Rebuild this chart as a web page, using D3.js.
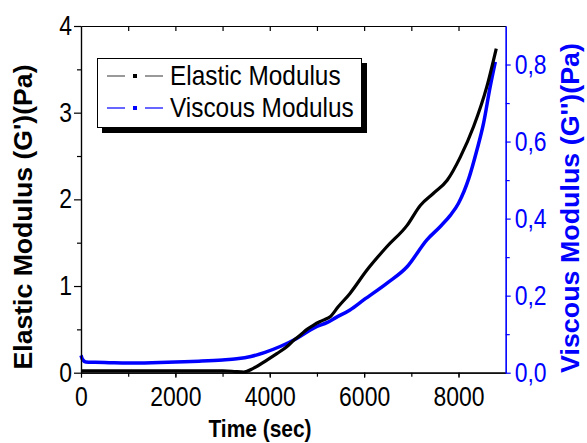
<!DOCTYPE html>
<html>
<head>
<meta charset="utf-8">
<script src="https://cdn.jsdelivr.net/npm/d3@7"></script>
<style>
  body { margin: 0; background: #fff; }
  svg { font-family: "Liberation Sans", Arial, sans-serif; }
</style>
</head>
<body>
<svg id="chart" width="587" height="443"></svg>
<script>
// data
const elasticTime = [0, 500, 1000, 1500, 2000, 2500, 3000, 3200, 3450, 3650, 3940, 4150, 4360, 4500, 4650, 4790, 4930, 5070, 5150, 5280, 5450, 5700, 6060, 6480, 6910, 7190, 7470, 7760, 8040, 8320, 8600, 8800];
const elastic = [0.02, 0.02, 0.021, 0.02, 0.02, 0.021, 0.02, 0.017, 0.008, 0.05, 0.146, 0.22, 0.30, 0.37, 0.435, 0.50, 0.55, 0.59, 0.61, 0.646, 0.76, 0.915, 1.185, 1.453, 1.70, 1.93, 2.07, 2.22, 2.49, 2.84, 3.30, 3.74];

const viscousTime = [0, 30, 100, 300, 600, 1000, 1500, 2000, 2500, 3000, 3300, 3600, 3900, 4220, 4570, 4860, 5000, 5210, 5400, 5700, 5990, 6480, 6910, 7330, 7610, 7830, 8000, 8220, 8390, 8530, 8670, 8780];
const viscous = [0.045, 0.035, 0.028, 0.027, 0.026, 0.025, 0.026, 0.028, 0.030, 0.033, 0.036, 0.042, 0.053, 0.068, 0.089, 0.111, 0.120, 0.130, 0.143, 0.163, 0.189, 0.232, 0.275, 0.345, 0.379, 0.409, 0.44, 0.505, 0.578, 0.647, 0.742, 0.807];

const xTicks = [0, 2000, 4000, 6000, 8000];
const xMinor = [1000, 2000, 3000, 4000, 5000, 6000, 7000, 8000];
const leftTicks = [0, 1, 2, 3, 4];
const leftMinor = [0.5, 1.5, 2.5, 3.5];
const rightTicks = [0, 0.2, 0.4, 0.6, 0.8];
const rightMinor = [0.1, 0.3, 0.5, 0.7];
const seriesNames = ["Elastic Modulus", "Viscous Modulus"];

const blue = "#0000ff";
const plotLeft = 81, plotRight = 505.7, plotTop = 26, plotBottom = 372.7;

const svg = d3.select("#chart");

const x = d3.scaleLinear().domain([0, 9000]).range([plotLeft, plotRight]);
const yL = d3.scaleLinear().domain([0, 4]).range([plotBottom, plotTop]);
const yR = d3.scaleLinear().domain([0, 0.9]).range([plotBottom, plotTop]);

// squeeze text horizontally, the original type is narrow
function condense(sel, k) {
  sel.each(function () {
    const w = this.getComputedTextLength();
    d3.select(this).attr("textLength", w * k).attr("lengthAdjust", "spacingAndGlyphs");
  });
}

function styleAxis(g, color) {
  g.attr("font-size", 27).attr("font-family", null);
  g.selectAll("path, line").attr("stroke", color).attr("stroke-width", 1.2);
  g.selectAll("text").attr("fill", color);
}

// curves
const elasticLine = d3.line()
  .x((d, i) => x(elasticTime[i]))
  .y(d => yL(d))
  .curve(d3.curveMonotoneX);

const viscousLine = d3.line()
  .x((d, i) => x(viscousTime[i]))
  .y(d => yR(d))
  .curve(d3.curveMonotoneX);

svg.append("path")
  .attr("d", viscousLine(viscous))
  .attr("fill", "none")
  .attr("stroke", blue)
  .attr("stroke-width", 3.5);

svg.append("path")
  .attr("d", elasticLine(elastic))
  .attr("fill", "none")
  .attr("stroke", "#000")
  .attr("stroke-width", 3.2);

// bottom axis
svg.append("g")
  .attr("transform", "translate(0," + plotBottom + ")")
  .call(d3.axisBottom(x).tickValues(xMinor).tickSize(4).tickSizeOuter(0).tickFormat(""))
  .call(g => styleAxis(g, "#000"));

const xg = svg.append("g")
  .attr("transform", "translate(0," + plotBottom + ")")
  .call(d3.axisBottom(x).tickValues(xTicks).tickSize(5).tickSizeOuter(0).tickPadding(9).tickFormat(d3.format("d")))
  .call(g => styleAxis(g, "#000"));
condense(xg.selectAll("text"), 0.85);

// top axis, ticks pointing in
svg.append("g")
  .attr("transform", "translate(0," + plotTop + ")")
  .call(d3.axisTop(x).tickValues(xMinor).tickSize(-5).tickSizeOuter(0).tickFormat(""))
  .call(g => styleAxis(g, "#000"));

// left axis
svg.append("g")
  .attr("transform", "translate(" + plotLeft + ",0)")
  .call(d3.axisLeft(yL).tickValues(leftMinor).tickSize(4).tickSizeOuter(0).tickFormat(""))
  .call(g => styleAxis(g, "#000"));

const lg = svg.append("g")
  .attr("transform", "translate(" + plotLeft + ",0)")
  .call(d3.axisLeft(yL).tickValues(leftTicks).tickSize(7).tickSizeOuter(0).tickPadding(2).tickFormat(d3.format("d")))
  .call(g => styleAxis(g, "#000"));
condense(lg.selectAll("text"), 0.85);

// right axis
svg.append("g")
  .attr("transform", "translate(" + plotRight + ",0)")
  .call(d3.axisRight(yR).tickValues(rightMinor).tickSize(4).tickSizeOuter(0).tickFormat(""))
  .call(g => styleAxis(g, blue));

const rg = svg.append("g")
  .attr("transform", "translate(" + plotRight + ",0)")
  .call(d3.axisRight(yR).tickValues(rightTicks).tickSize(5).tickSizeOuter(0).tickPadding(4)
    .tickFormat(d => d3.format(".1f")(d).replace(".", ",")))
  .call(g => styleAxis(g, blue));
condense(rg.selectAll("text"), 0.85);

// axis titles
const tx = svg.append("text")
  .attr("x", 260).attr("y", 436.5)
  .attr("text-anchor", "middle")
  .attr("font-weight", "bold").attr("font-size", 23)
  .text("Time (sec)");
condense(tx, 0.91);

svg.append("text")
  .attr("transform", "translate(32,217) rotate(-90)")
  .attr("text-anchor", "middle")
  .attr("font-weight", "bold").attr("font-size", 26)
  .attr("textLength", 305).attr("lengthAdjust", "spacingAndGlyphs")
  .text("Elastic Modulus (G')(Pa)");

svg.append("text")
  .attr("transform", "translate(579,208) rotate(-90)")
  .attr("text-anchor", "middle")
  .attr("font-weight", "bold").attr("font-size", 26)
  .attr("fill", blue)
  .attr("textLength", 330).attr("lengthAdjust", "spacingAndGlyphs")
  .text("Viscous Modulus (G'')(Pa)");

// legend
const legend = svg.append("g");
legend.append("rect")
  .attr("x", 102).attr("y", 63).attr("width", 265).attr("height", 70)
  .attr("fill", "#000");
legend.append("rect")
  .attr("x", 97.5).attr("y", 58.5).attr("width", 264).attr("height", 69)
  .attr("fill", "#fff").attr("stroke", "#000").attr("stroke-width", 1);

const legendColors = ["#000", blue];
const legendLine = ["#555", blue];
seriesNames.forEach((name, i) => {
  const yy = 76 + i * 32;
  [[107, 125], [145, 163]].forEach(seg => {
    legend.append("line")
      .attr("x1", seg[0]).attr("x2", seg[1])
      .attr("y1", yy).attr("y2", yy)
      .attr("stroke", legendLine[i]).attr("stroke-width", 1.2);
  });
  legend.append("rect")
    .attr("x", 133).attr("y", yy - 2).attr("width", 4).attr("height", 4)
    .attr("fill", legendColors[i]);
  const t = legend.append("text")
    .attr("x", 170).attr("y", yy + 9)
    .attr("font-size", 28)
    .text(name);
  condense(t, 0.87);
});
</script>
</body>
</html>
